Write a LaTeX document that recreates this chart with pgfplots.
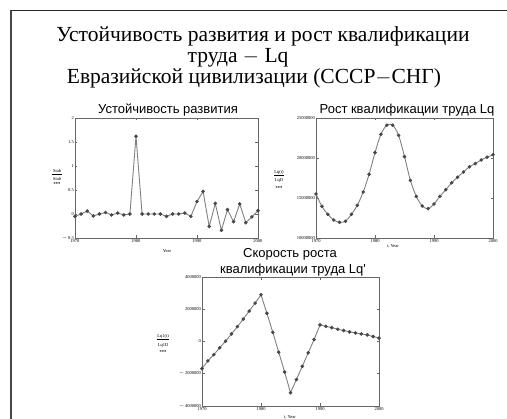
\documentclass[border=0pt]{standalone}
\usepackage{fontspec}
\setmainfont{Liberation Serif}
\newfontfamily\sansf{Liberation Sans}
\usepackage{pgfplots}
\pgfplotsset{compat=1.18}
\usepackage{pgfplotstable}

\definecolor{lnc}{gray}{0.5}
\definecolor{mkc}{gray}{0.28}
\definecolor{axc}{gray}{0.4}

% Stab: устойчивость развития
\pgfplotstableread{
year stab
1970 -0.05
1971 0.00
1972 0.06
1973 -0.04
1974 0.00
1975 0.03
1976 -0.02
1977 0.02
1978 -0.02
1979 0.00
1980 1.62
1981 0.00
1982 0.00
1983 0.00
1984 0.00
1985 -0.05
1986 0.00
1987 0.00
1988 0.02
1989 -0.05
1990 0.26
1991 0.47
1992 -0.26
1993 0.22
1994 -0.34
1995 0.09
1996 -0.16
1997 0.21
1998 -0.18
1999 -0.06
2000 0.07
}\stabdata

% Lq(t)
\pgfplotstableread{
year lq
1970 15500000
1971 13960000
1972 12960000
1973 12250000
1974 11960000
1975 12100000
1976 12960000
1977 14080000
1978 15750000
1979 17960000
1980 20670000
1981 22960000
1982 24100000
1983 24100000
1984 22830000
1985 20170000
1986 17200000
1987 15200000
1988 14000000
1989 13670000
1990 14250000
1991 15200000
1992 16040000
1993 16900000
1994 17600000
1995 18250000
1996 18900000
1997 19300000
1998 19750000
1999 20100000
2000 20400000
}\lqdata

% Lq'(t)
\pgfplotstableread{
year dlq
1970 -1680000
1971 -1200000
1972 -820000
1973 -390000
1974 20000
1975 470000
1976 920000
1977 1390000
1978 1890000
1979 2380000
1980 2900000
1981 1750000
1982 570000
1983 -660000
1984 -1890000
1985 -3180000
1986 -2360000
1987 -1540000
1988 -700000
1989 120000
1990 1030000
1991 940000
1992 860000
1993 760000
1994 680000
1995 600000
1996 530000
1997 470000
1998 410000
1999 310000
2000 210000
}\dlqdata

\pgfplotsset{
  mcad/.style={
    scale only axis, anchor=south west,
    xmin=1970, xmax=2000,
    xtick={1970,1980,1990,2000},
    xticklabels={1970,1980,1990,2000},
    scaled x ticks=false, scaled y ticks=false,
    tick align=inside, major tick length=2.5pt,
    axis line style={axc, line width=0.6pt},
    tick style={axc, line width=0.5pt},
    ticklabel style={font=\fontsize{4.5}{5}\selectfont, inner sep=1pt},
    clip=false,
  },
  trace/.style={lnc, line width=0.9pt, mark=*, mark size=1.3pt,
    mark options={draw=mkc, fill=mkc}},
}

\begin{document}
\begin{tikzpicture}
\path[use as bounding box] (0pt,0pt) rectangle (507pt,419pt);
\draw[gray!55!black, line width=1.6pt] (11pt,0pt) -- (11pt,409pt);
\draw[black!85, line width=0.8pt] (11pt,409pt) -- (507pt,409pt);

% main title
\node[anchor=base, font=\fontsize{21.5}{23}\selectfont] at (263pt,377pt) {Устойчивость развития и рост квалификации};
\node[anchor=base, font=\fontsize{21.5}{23}\selectfont] at (238pt,356pt) {труда $-$ Lq};
\node[anchor=base, font=\fontsize{21.5}{23}\selectfont] at (254pt,335pt) {Евразийской цивилизации (СССР$-$СНГ)};

% plot 1
\begin{axis}[mcad, at={(75pt,181pt)}, width=183pt, height=120pt,
  ymin=-0.5, ymax=2, ytick={-0.5,0,0.5,1,1.5,2},
  yticklabels={$-$\,0.5,0,0.5,1,1.5,2}]
\addplot[trace] table[x=year, y=stab] {\stabdata};
\end{axis}
\node[anchor=base, font=\sansf\fontsize{13}{14}\selectfont] at (168pt,305pt) {Устойчивость развития};
\node[font=\fontsize{4.5}{5}\selectfont] at (167pt,168pt) {Year};
\node[font=\fontsize{4.5}{5}\selectfont] at (57pt,248pt) {Stab};
\draw[black, line width=0.3pt] (52pt,244.5pt) -- (62pt,244.5pt);
\node[font=\fontsize{4.5}{5}\selectfont] at (57pt,240pt) {Stab};
\node[font=\fontsize{4.5}{5}\selectfont\bfseries] at (57pt,235pt) {***};

% plot 2
\begin{axis}[mcad, at={(316pt,181pt)}, width=177pt, height=120pt,
  ymin=10000000, ymax=25000000,
  ytick={10000000,15000000,20000000,25000000},
  yticklabels={10000000,15000000,20000000,25000000}]
\addplot[trace, smooth] table[x=year, y=lq] {\lqdata};
\end{axis}
\node[anchor=base, font=\sansf\fontsize{13}{14}\selectfont] at (407pt,305pt) {Рост квалификации труда Lq};
\node[font=\fontsize{4.5}{5}\selectfont] at (393pt,173pt) {t, Year};
\node[font=\fontsize{4.5}{5}\selectfont] at (279pt,247pt) {Lq(t)};
\draw[black, line width=0.3pt] (274pt,243.5pt) -- (284pt,243.5pt);
\node[font=\fontsize{4.5}{5}\selectfont] at (279pt,238pt) {LqD};
\node[font=\fontsize{4.5}{5}\selectfont\bfseries] at (279pt,231pt) {***};

% plot 3
\begin{axis}[mcad, at={(202pt,13pt)}, width=177pt, height=129pt,
  ymin=-4000000, ymax=4000000,
  ytick={-4000000,-2000000,0,2000000,4000000},
  yticklabels={$-$\,4000000,$-$\,2000000,0,2000000,4000000}]
\addplot[trace] table[x=year, y=dlq] {\dlqdata};
\end{axis}
\node[anchor=base, font=\sansf\fontsize{13}{14}\selectfont] at (290pt,161pt) {Скорость роста};
\node[anchor=base, font=\sansf\fontsize{13}{14}\selectfont] at (293pt,145pt) {квалификации труда Lq'};
\node[font=\fontsize{4.5}{5}\selectfont] at (290pt,2pt) {t, Year};
\node[font=\fontsize{4.5}{5}\selectfont] at (163pt,83pt) {Lq1(t)};
\draw[black, line width=0.3pt] (157pt,79.5pt) -- (169pt,79.5pt);
\node[font=\fontsize{4.5}{5}\selectfont] at (163pt,73pt) {Lq1D};
\node[font=\fontsize{4.5}{5}\selectfont\bfseries] at (163pt,67pt) {***};
\end{tikzpicture}
\end{document}
